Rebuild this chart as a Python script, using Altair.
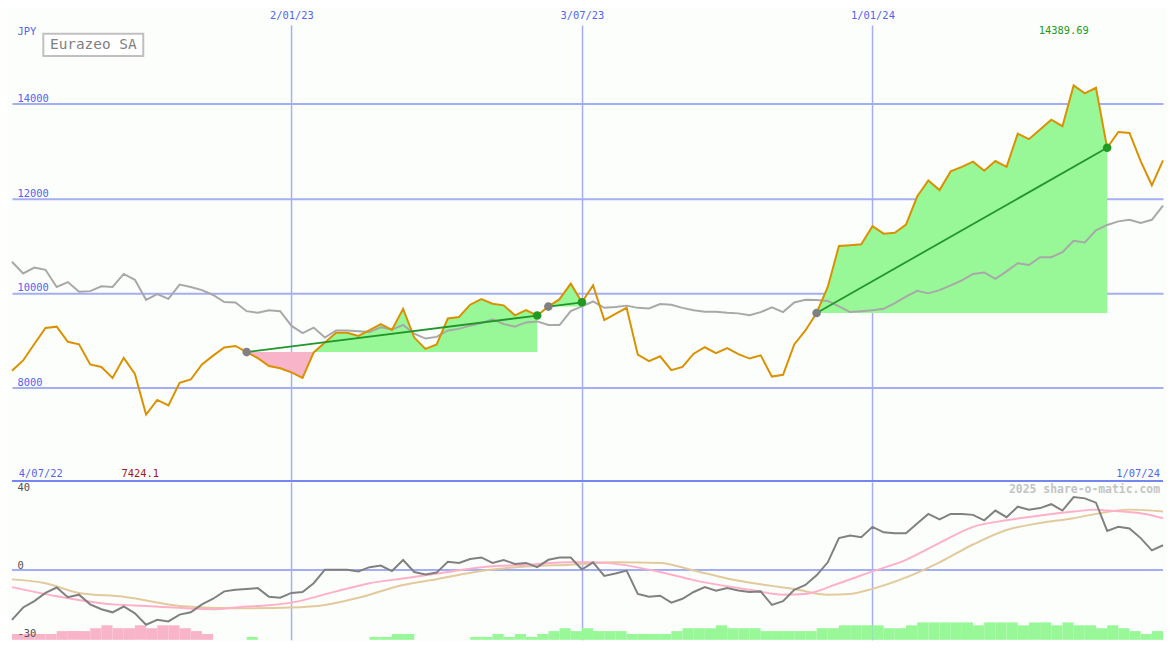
import altair as alt
import pandas as pd
import numpy as np

TITLE = "Eurazeo SA"
CURRENCY = "JPY"
WATERMARK = "2025 share-o-matic.com"

# weekly close (JPY), one value per week index 0..103
price = [8350, 8570, 8917, 9258, 9285, 8965, 8910, 8487, 8432, 8200,
         8624, 8282, 7424.1, 7735, 7620, 8097, 8167, 8487, 8671, 8843,
         8876, 8747, 8620, 8453, 8405, 8316, 8200, 8740, 8950, 9156,
         9156, 9090, 9210, 9340, 9215, 9662, 9054, 8814, 8910, 9457,
         9490, 9750, 9867, 9771, 9736, 9525, 9634, 9520, 9710, 9867,
         10195, 9800, 10160, 9423, 9553, 9683, 8691, 8556, 8658, 8364,
         8432, 8712, 8849, 8726, 8829, 8705, 8610, 8678, 8228, 8265,
         8910, 9204, 9575, 10126, 10994, 11010, 11028, 11410, 11253, 11273,
         11444, 12039, 12380, 12175, 12571, 12667, 12776, 12585, 12790, 12667,
         13370, 13254, 13459, 13664, 13527, 14389.69, 14224, 14340, 13070, 13404,
         13384, 12790, 12277, 12804]

# grey comparison line in the price panel
avg = [10658, 10412, 10535, 10488, 10126, 10228, 10023, 10037, 10140, 10126,
       10400, 10277, 9853, 9976, 9873, 10175, 10126, 10058, 9955, 9806,
       9798, 9613, 9580, 9634, 9613, 9306, 9150, 9265, 9054, 9204,
       9204, 9190, 9170, 9272, 9223, 9320, 9136, 9033, 9068, 9204,
       9238, 9306, 9361, 9443, 9341, 9286, 9375, 9396, 9320, 9320,
       9613, 9716, 9818, 9683, 9703, 9730, 9683, 9669, 9764, 9750,
       9683, 9634, 9600, 9600, 9580, 9566, 9525, 9593, 9695, 9593,
       9798, 9853, 9850, 9830, 9716, 9593, 9613, 9634, 9662, 9785,
       9921, 10044, 9990, 10058, 10160, 10263, 10400, 10433, 10297, 10454,
       10626, 10591, 10755, 10755, 10863, 11103, 11068, 11322, 11437, 11513,
       11547, 11478, 11547, 11847]

# oscillator (lower panel)
osc = [-25.7, -19.3, -16, -11.8, -9, -14, -12.7, -17.7, -20.2, -21.8,
       -18.8, -22.3, -28.2, -25.7, -26.5, -23, -21.8, -17.7, -14.8, -11,
       -10.2, -9.8, -9.3, -13.8, -14.3, -11.8, -11.3, -6.8, 0.2, 0.2,
       0.2, -0.7, 1.5, 2.3, -0.5, 5.2, -1, -2.3, -1.3, 4.3,
       3.7, 5.7, 6.5, 3.7, 5.2, 3.2, 3.7, 1.5, 5.3, 6.5,
       6.5, 0.3, 4, -3, -1.8, -0.3, -12.3, -13.8, -13.2, -16.8,
       -14.8, -11.3, -8.8, -10.7, -9.3, -10.5, -11.3, -11, -18, -16,
       -10.2, -7.7, -2.7, 4, 16.5, 17.8, 17, 22.3, 19.5, 19,
       19, 24, 29, 26.2, 29, 29, 28.5, 25.7, 30.7, 27.3,
       32.7, 31.2, 32, 34, 30.7, 37.7, 37, 34.8, 20.2, 22.3,
       21.5, 16.5, 10.2, 12.8]

pink_idx = [0, 4, 9, 12, 18, 20, 25, 29, 32, 35, 39, 42, 46, 50, 52, 54, 58,
            61, 66, 69, 71, 74, 77, 80, 83, 86, 89, 92, 95, 97, 98, 101, 103]
pink_val = [-8.8, -13.5, -17.7, -18.5, -20.2, -19.3, -16.8, -11, -6.8, -4.3,
            -1, 1.5, 2.7, 4, 4, 3.2, -1, -5.2, -10.2, -12.7, -12.3, -6.8,
            -0.7, 5.3, 14, 22.3, 25.7, 28.2, 30.2, 31.2, 30.7, 29.3, 26.8]

tan_idx = [0, 3, 6, 10, 15, 20, 25, 28, 31, 35, 38, 42, 46, 50, 54, 58, 61,
           64, 67, 70, 73, 75, 77, 80, 83, 86, 89, 92, 95, 97, 100, 103]
tan_val = [-4.8, -6.8, -11.8, -13.8, -18.5, -19.7, -19.3, -18, -14.3, -7.7,
           -4.7, -0.5, 1.8, 2.8, 4, 3.7, -0.2, -4.3, -7.3, -9.8, -12.7,
           -12.3, -9.7, -3.8, 4, 13.2, 20.7, 24.3, 26.8, 29, 31.2, 30.2]

# weekly histogram (bar j spans week j..j+1); negative = pink, positive = green
hist = ([-2] * 4 + [-3] * 3 + [-4, -5, -4, -4, -5, -4, -5, -5, -4, -3, -2]
        + [0] * 3 + [1] + [0] * 10 + [1, 1, 2, 2] + [0] * 5
        + [1, 1, 2, 1, 2, 1, 2, 3, 4, 3, 4, 3, 3, 3, 2, 2, 2, 2, 3, 4, 4, 4, 5,
           4, 4, 4, 3, 3, 3, 3, 3, 4, 4, 5, 5, 5, 5, 4, 4, 5, 6, 6, 6, 6, 6, 5,
           6, 6, 6, 5, 6, 6, 5, 6, 5, 5, 4, 5, 4, 3, 2, 3])

x_tick_idx = [25, 51, 77]
x_tick_lab = ["2/01/23", "3/07/23", "1/01/24"]
edge_lab = ["4/07/22", "1/07/24"]
y_ticks = [8000, 10000, 12000, 14000]
osc_ticks = [40, 0, -30]
seg_start = [21, 48, 72]
seg_end = [47, 51, 98]

assert len(price) == 104 and len(avg) == 104 and len(osc) == 104 and len(hist) == 103

# ---------------- geometry / style ----------------
W = 1159
SX = W / 1175
SY = 634 / 650
H_TOP = 459
H_BOT = 159
FONT = "DejaVu Sans Mono"
BG = "#fcfefc"
GRID = "#a4aef4"
DIV = "#7686f0"
LBL = "#5464ec"
ORANGE = "#da9100"
AVG = "#a8a8a8"
FILL_UP = "#98f898"
FILL_DN = "#f8b4c8"
TREND = "#22962a"
MK_START = "#808080"
MK_END = "#229a22"
OSC = "#808080"
PINK = "#ffb0c8"
TAN = "#e2ca9c"

N = len(price)
xscale = alt.Scale(domain=[0, N - 1], nice=False, zero=False)
ytop = alt.Scale(domain=[6020, 15668], nice=False, zero=False)
ybot = alt.Scale(domain=[-36, 45.5], nice=False, zero=False)

lab_expr = " : ".join(
    f"datum.value == {v} ? '{t}'" for v, t in zip(x_tick_idx, x_tick_lab)) + " : ''"

top_axis_x = alt.Axis(orient="top", values=x_tick_idx, labelExpr=lab_expr,
                      grid=True, gridColor=GRID, gridWidth=1.5, ticks=False,
                      domain=False, labelColor=LBL, labelFont=FONT,
                      labelFontSize=10.5, labelPadding=4.5, labelOverlap=False,
                      labelFlush=False, title=None)
top_axis_y = alt.Axis(orient="left", values=y_ticks, format="d", grid=True,
                      gridColor=GRID, gridWidth=2, ticks=False, tickSize=0,
                      domain=False, labelAlign="left", labelBaseline="bottom",
                      labelPadding=-5, labelColor=LBL, labelFont=FONT,
                      labelFontSize=10.5, labelOverlap=False,
                      title=CURRENCY, titleAngle=0, titleAlign="left",
                      titleBaseline="top", titleX=5, titleY=1, titleColor=LBL,
                      titleFont=FONT, titleFontSize=10.5,
                      titleFontWeight="normal")
bot_axis_x = alt.Axis(orient="top", values=x_tick_idx, labels=False, ticks=False,
                      domain=False, grid=True, gridColor=GRID, gridWidth=1.5,
                      title=None)
bot_axis_y = alt.Axis(orient="left", values=osc_ticks, labelExpr="'' + datum.value",
                      grid=False, ticks=False, tickSize=0, domain=False,
                      labelAlign="left",
                      labelBaseline={"condition": {"test": "datum.value < 0", "value": "top"},
                                     "value": "bottom"},
                      labelPadding=-5, labelColor="#505050", labelFont=FONT,
                      labelFontSize=10.5, labelOverlap=False, title=None, zindex=1)


# every layer carries the same axis definition so the shared axes merge cleanly
def XT(f):
    return alt.X(f, type="quantitative", scale=xscale, axis=top_axis_x)


def YT(f):
    return alt.Y(f, type="quantitative", scale=ytop, axis=top_axis_y)


def XB(f):
    return alt.X(f, type="quantitative", scale=xscale, axis=bot_axis_x)


def YB(f):
    return alt.Y(f, type="quantitative", scale=ybot, axis=bot_axis_y)


# ---------------- data frames ----------------
df = pd.DataFrame({"i": np.arange(N), "price": price, "avg": avg, "osc": osc})

fill_rows = []
for s, (a, b) in enumerate(zip(seg_start, seg_end)):
    base = price[a]
    for k in range(a, b + 1):
        fill_rows.append((s, float(k), price[k], base))
        if k < b:
            d0, d1 = price[k] - base, price[k + 1] - base
            if d0 * d1 < 0:
                t = d0 / (d0 - d1)
                fill_rows.append((s, k + t, base, base))
fill = pd.DataFrame(fill_rows, columns=["seg", "x", "p", "base"])
fill["up"] = np.maximum(fill.p, fill.base)
fill["down"] = np.minimum(fill.p, fill.base)

trend = pd.DataFrame({
    "seg": list(range(len(seg_start))) * 2,
    "x": seg_start + seg_end,
    "p": [price[a] for a in seg_start] + [price[b] for b in seg_end],
})
starts = pd.DataFrame({"x": seg_start, "p": [price[a] for a in seg_start]})
ends = pd.DataFrame({"x": seg_end, "p": [price[b] for b in seg_end]})

imax = int(np.argmax(price))
imin = int(np.argmin(price))
maxlab = pd.DataFrame({"x": [imax], "t": [str(price[imax])]})
minlab = pd.DataFrame({"x": [imin], "t": [str(price[imin])]})

# ---------------- top panel ----------------
up_area = alt.Chart(fill).mark_area(color=FILL_UP, opacity=1).encode(
    x=XT("x"), y=YT("up"), y2="base:Q", detail="seg:N")
dn_area = alt.Chart(fill).mark_area(color=FILL_DN, opacity=1).encode(
    x=XT("x"), y=YT("down"), y2="base:Q", detail="seg:N")
avg_line = alt.Chart(df).mark_line(color=AVG, strokeWidth=2).encode(
    x=XT("i"), y=YT("avg"))
price_line = alt.Chart(df).mark_line(color=ORANGE, strokeWidth=2).encode(
    x=XT("i"), y=YT("price"))
trend_line = alt.Chart(trend).mark_line(color=TREND, strokeWidth=1.8).encode(
    x=XT("x"), y=YT("p"), detail="seg:N")
start_pts = alt.Chart(starts).mark_circle(color=MK_START, size=75, opacity=1).encode(
    x=XT("x"), y=YT("p"))
end_pts = alt.Chart(ends).mark_circle(color=MK_END, size=75, opacity=1).encode(
    x=XT("x"), y=YT("p"))
divider = alt.Chart(pd.DataFrame({"v": [ytop.domain[0]]})).mark_rule(
    color=DIV, strokeWidth=2).encode(y=YT("v"))

box = alt.Chart(pd.DataFrame({"t": [TITLE]})).mark_rect(
    fill="white", stroke="#c0c0c0", strokeWidth=2).encode(
    x=alt.value(32 * SX), x2=alt.value(134 * SX),
    y=alt.value(9 * SY), y2=alt.value(32 * SY))
box_text = alt.Chart(pd.DataFrame({"t": [TITLE]})).mark_text(
    font=FONT, fontSize=14.5, color="#808080", align="center",
    baseline="middle").encode(x=alt.value(83 * SX), y=alt.value(20.5 * SY), text="t:N")

max_text = alt.Chart(maxlab).mark_text(
    font=FONT, fontSize=10.5, color="#229a22", align="center", baseline="top",
    dx=-10 * SX).encode(x=XT("x"), y=alt.value(1), text="t:N")
min_text = alt.Chart(minlab).mark_text(
    font=FONT, fontSize=10.5, color="#a01818", align="center", baseline="bottom",
    dx=-6 * SX).encode(x=XT("x"), y=alt.value(H_TOP - 2), text="t:N")
left_text = alt.Chart(pd.DataFrame({"x": [0], "t": [edge_lab[0]]})).mark_text(
    font=FONT, fontSize=10.5, color=LBL, align="left", baseline="bottom",
    dx=7 * SX).encode(x=XT("x"), y=alt.value(H_TOP - 2), text="t:N")
right_text = alt.Chart(pd.DataFrame({"x": [N - 1], "t": [edge_lab[1]]})).mark_text(
    font=FONT, fontSize=10.5, color=LBL, align="right", baseline="bottom",
    dx=-3 * SX).encode(x=XT("x"), y=alt.value(H_TOP - 2), text="t:N")

top = alt.layer(
    dn_area, up_area, avg_line, price_line, trend_line, start_pts, end_pts,
    divider, box, box_text, max_text, min_text, left_text, right_text
).properties(width=W, height=H_TOP)

# ---------------- bottom panel ----------------
bars = pd.DataFrame({"j": np.arange(len(hist)), "h": hist})
bars = bars[bars.h != 0].copy()
bars["j1"] = bars.j + 1
bars["lo"] = ybot.domain[0]
bars["hi"] = ybot.domain[0] + bars.h.abs() * 1.5
bars["c"] = np.where(bars.h < 0, FILL_DN, FILL_UP)

hist_bars = alt.Chart(bars).mark_rect().encode(
    x=XB("j"), x2="j1:Q", y=YB("lo"), y2="hi:Q",
    color=alt.Color("c:N", scale=None))
zero = alt.Chart(pd.DataFrame({"v": [0]})).mark_rule(
    color=GRID, strokeWidth=2).encode(y=YB("v"))
tan_line = alt.Chart(pd.DataFrame({"x": tan_idx, "v": tan_val})).mark_line(
    color=TAN, strokeWidth=2, interpolate="monotone").encode(x=XB("x"), y=YB("v"))
pink_line = alt.Chart(pd.DataFrame({"x": pink_idx, "v": pink_val})).mark_line(
    color=PINK, strokeWidth=2, interpolate="monotone").encode(x=XB("x"), y=YB("v"))
osc_line = alt.Chart(df).mark_line(color=OSC, strokeWidth=2).encode(
    x=XB("i"), y=YB("osc"))
wm = alt.Chart(pd.DataFrame({"t": [WATERMARK]})).mark_text(
    font=FONT, fontSize=11.5, fontWeight="bold", color="#c4c4c4",
    align="right", baseline="top").encode(
    x=alt.value(W - 3), y=alt.value(2), text="t:N")

bottom = alt.layer(hist_bars, zero, tan_line, pink_line, osc_line, wm).properties(
    width=W, height=H_BOT)

chart = alt.vconcat(top, bottom, spacing=0).properties(
    padding=0, background=BG
).configure_view(strokeOpacity=0)

chart.save("out.html", embed_options={"renderer": "svg", "actions": False})
